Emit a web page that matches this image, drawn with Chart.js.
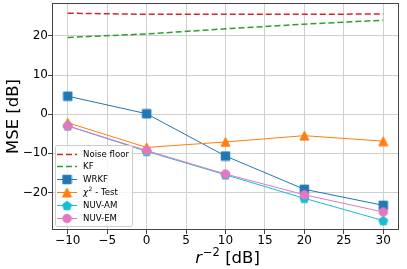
<!DOCTYPE html>
<html><head><meta charset="utf-8">
<script src="https://cdn.jsdelivr.net/npm/chart.js@4/dist/chart.umd.min.js"></script>
<style>html,body{margin:0;padding:0;background:#fff}#wrap{width:407px;height:269px}</style>
</head><body><div id="wrap"><canvas id="c" width="407" height="269"></canvas></div>
<script>
// ---- data ----
const xValues = [-10, 0, 10, 20, 30];
const noiseFloor = [25.8, 25.5, 25.5, 25.5, 25.6];
const kf = [19.6, 20.5, 21.8, 23.0, 24.0];
const wrkf = [4.6, 0.1, -10.7, -19.2, -23.3];
const chi2 = [-2.2, -8.5, -7.1, -5.5, -6.9];
const nuvAM = [-3.0, -9.5, -15.5, -21.5, -27.2];
const nuvEM = [-3.0, -9.3, -15.3, -20.6, -25.0];
const xTicks = [-10, -5, 0, 5, 10, 15, 20, 25, 30];
const yTicks = [-20, -10, 0, 10, 20];
const seriesNames = ['Noise floor', 'KF', 'WRKF', 'χ² - Test', 'NUV-AM', 'NUV-EM'];

const FONT = "'DejaVu Sans', sans-serif";
const C = {red:'#d62728', green:'#2ca02c', blue:'#1f77b4', orange:'#ff7f0e', cyan:'#17becf', pink:'#e377c2'};

function makeMarker(shape, color, size){
  const s = Math.ceil(size) + 2;
  const cv = document.createElement('canvas');
  cv.width = s; cv.height = s;
  const g = cv.getContext('2d');
  const c = s/2, h = size/2;
  g.fillStyle = color; g.strokeStyle = color; g.lineWidth = 1;
  g.beginPath();
  if (shape === 'square'){ g.rect(c-h, c-h, 2*h, 2*h); }
  else if (shape === 'triangle'){ g.moveTo(c, c-h); g.lineTo(c-h, c+h); g.lineTo(c+h, c+h); g.closePath(); }
  else if (shape === 'circle'){ g.arc(c, c, h, 0, Math.PI*2); }
  else if (shape === 'pentagon'){
    for (let i=0;i<5;i++){ const a = -Math.PI/2 + i*2*Math.PI/5; const px=c+h*1.05*Math.cos(a), py=c+h*1.05*Math.sin(a)+0.5; i?g.lineTo(px,py):g.moveTo(px,py);} g.closePath();
  }
  g.fill(); g.stroke();
  return cv;
}
const mk = {
  wrkf: makeMarker('square', C.blue, 8.5),
  chi2: makeMarker('triangle', C.orange, 9),
  am: makeMarker('pentagon', C.cyan, 9),
  em: makeMarker('circle', C.pink, 8.5)
};

function pts(arr){ return xValues.map((x,i)=>({x:x, y:arr[i]})); }

const datasets = [
  {label:seriesNames[0], data:pts(noiseFloor), borderColor:C.red, borderWidth:1.5, borderDash:[6,3], pointRadius:0, order:6},
  {label:seriesNames[1], data:pts(kf), borderColor:C.green, borderWidth:1.5, borderDash:[6,3], pointRadius:0, order:5},
  {label:seriesNames[2], data:pts(wrkf), borderColor:C.blue, borderWidth:1, pointStyle:mk.wrkf, pointRadius:5, order:4, marker:mk.wrkf},
  {label:seriesNames[3], data:pts(chi2), borderColor:C.orange, borderWidth:1, pointStyle:mk.chi2, pointRadius:5, order:3, marker:mk.chi2},
  {label:seriesNames[4], data:pts(nuvAM), borderColor:C.cyan, borderWidth:1, pointStyle:mk.am, pointRadius:5, order:2, marker:mk.am},
  {label:seriesNames[5], data:pts(nuvEM), borderColor:C.pink, borderWidth:1, pointStyle:mk.em, pointRadius:5, order:1, marker:mk.em}
];
datasets.forEach(d=>{ d.fill=false; d.tension=0; d.backgroundColor=d.borderColor; });

const fmt = v => String(v).replace('-', '\u2212');

const custom = {
  id:'custom',
  afterDatasetsDraw(chart){
    const ctx = chart.ctx, a = chart.chartArea;
    ctx.save();
    // frame
    ctx.strokeStyle = '#444'; ctx.lineWidth = 1;
    ctx.strokeRect(Math.round(a.left)+0.5, Math.round(a.top)+0.5, Math.round(a.right-a.left)-1, Math.round(a.bottom-a.top)-1);
    // legend
    const L = 55, T = 145, W = 77, H = 81;
    ctx.beginPath();
    if (ctx.roundRect) ctx.roundRect(L+0.5, T+0.5, W, H, 2); else ctx.rect(L+0.5, T+0.5, W, H);
    ctx.fillStyle = 'rgba(255,255,255,0.8)'; ctx.fill();
    ctx.strokeStyle = '#cccccc'; ctx.stroke();
    const ds = chart.data.datasets;
    const y0 = 153.5, dy = 12.9;
    const LF = 8.6;
    ds.forEach((d,i)=>{
      const y = Math.round(y0 + i*dy) + 0.5;
      ctx.beginPath();
      ctx.setLineDash(d.borderDash || []);
      ctx.strokeStyle = d.borderColor; ctx.lineWidth = d.borderWidth;
      ctx.moveTo(57, y); ctx.lineTo(77, y); ctx.stroke();
      ctx.setLineDash([]);
      if (d.marker){ const m = d.marker; ctx.drawImage(m, 67 - m.width/2, y - m.height/2); }
      ctx.fillStyle = '#000'; ctx.textBaseline = 'middle'; ctx.textAlign = 'left';
      if (i === 3){
        ctx.font = "italic " + LF + "px " + FONT; ctx.fillText('χ', 83, y);
        let x = 83 + ctx.measureText('χ').width + 0.5;
        ctx.font = "6px " + FONT; ctx.fillText('2', x, y-3.5);
        x += ctx.measureText('2').width;
        ctx.font = LF + "px " + FONT; ctx.fillText(' - Test', x, y);
      } else {
        ctx.font = LF + "px " + FONT; ctx.fillText(d.label, 83, y);
      }
    });
    // y title
    ctx.fillStyle = '#000';
    ctx.save();
    ctx.translate(17.5, 116.5); ctx.rotate(-Math.PI/2);
    ctx.font = "16.5px " + FONT; ctx.textAlign = 'center'; ctx.textBaseline = 'alphabetic';
    ctx.fillText('MSE [dB]', 0, 0);
    ctx.restore();
    // x title: r^{-2} [dB]
    ctx.textBaseline = 'alphabetic'; ctx.textAlign = 'left';
    ctx.font = "italic 16.5px " + FONT; const w1 = ctx.measureText('r').width;
    ctx.font = "11.5px " + FONT; const w2 = ctx.measureText('\u22122').width;
    ctx.font = "16.5px " + FONT; const w3 = ctx.measureText(' [dB]').width;
    let x = 227.5 - (w1 + w2 + w3 + 1)/2; const yb = 263;
    ctx.font = "italic 16.5px " + FONT; ctx.fillText('r', x, yb); x += w1 + 1;
    ctx.font = "11.5px " + FONT; ctx.fillText('\u22122', x, yb - 7); x += w2;
    ctx.font = "16.5px " + FONT; ctx.fillText(' [dB]', x, yb);
    ctx.restore();
  }
};

new Chart(document.getElementById('c'), {
  type:'line',
  data:{datasets},
  options:{
    responsive:false, animation:false, devicePixelRatio:1,
    layout:{autoPadding:false, padding:{left:0, right:8, top:3, bottom:0}},
    plugins:{legend:{display:false}, tooltip:{enabled:false}},
    scales:{
      x:{type:'linear', min:-12, max:32,
        afterBuildTicks(s){ s.ticks = xTicks.map(v=>({value:v})); },
        afterFit(s){ s.height = 39; s.paddingLeft = 0; s.paddingRight = 0; },
        ticks:{font:{family:FONT, size:12}, color:'#000', padding:0, maxRotation:0, callback:fmt},
        grid:{color:'#d0d0d0', lineWidth:1, tickColor:'#444', tickLength:4},
        border:{display:false}
      },
      y:{type:'linear', min:-29.6, max:28.4,
        afterBuildTicks(s){ s.ticks = yTicks.map(v=>({value:v})); },
        afterFit(s){ s.width = 52; s.paddingTop = 0; s.paddingBottom = 0; },
        ticks:{font:{family:FONT, size:12}, color:'#000', padding:0, callback:fmt},
        grid:{color:'#d0d0d0', lineWidth:1, tickColor:'#444', tickLength:4},
        border:{display:false}
      }
    }
  },
  plugins:[custom]
});
</script></body></html>
